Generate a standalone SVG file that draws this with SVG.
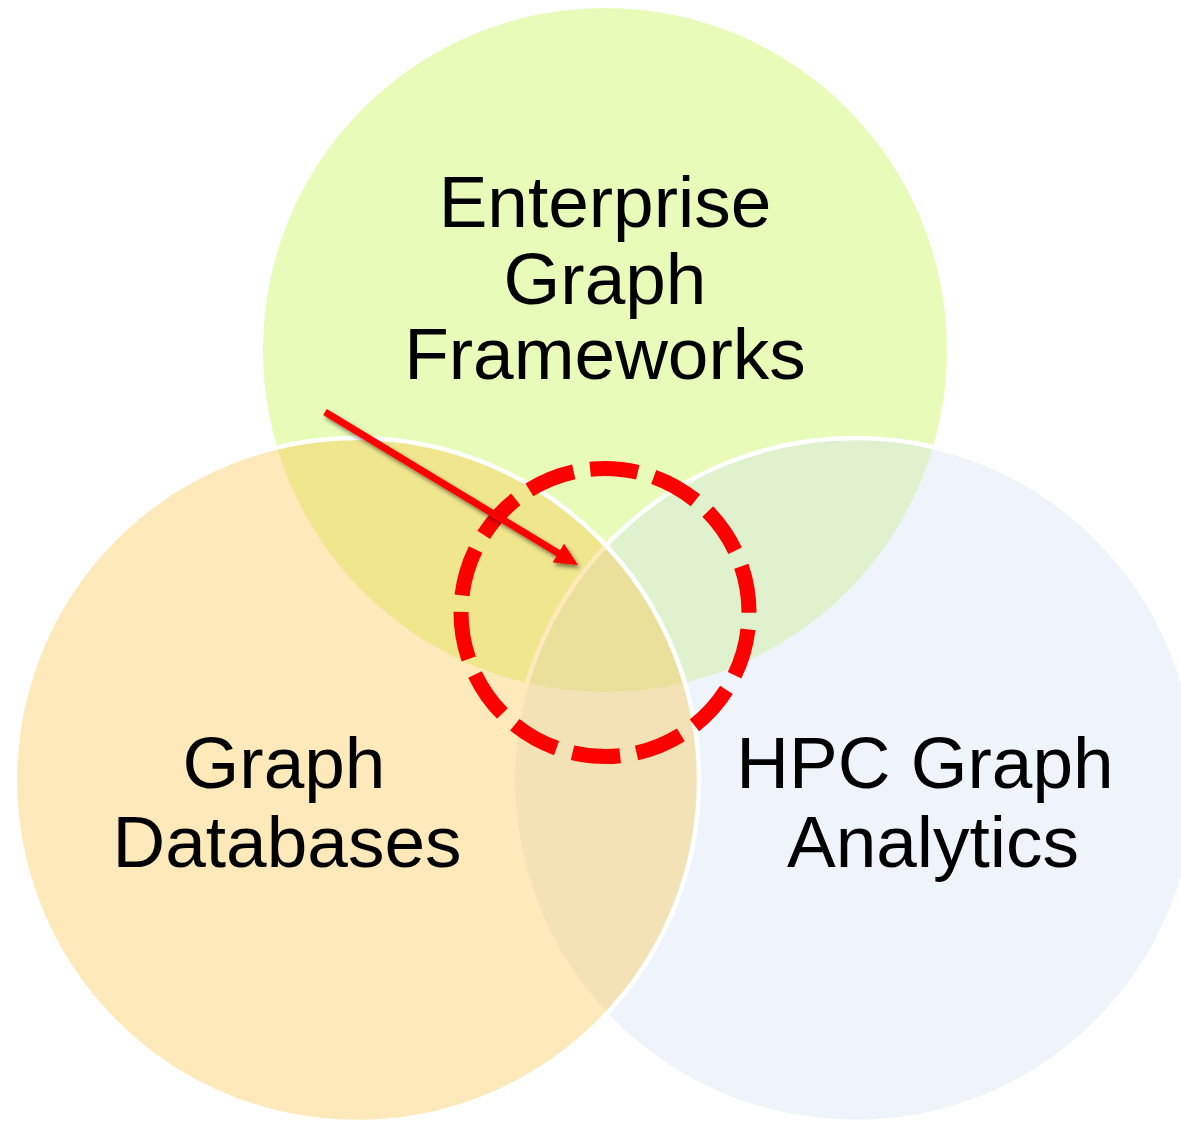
<svg xmlns="http://www.w3.org/2000/svg" width="1181" height="1121" viewBox="0 0 1181 1121">
  <style>
    .set { fill-opacity: 0.4; }
    .rim { stroke: #ffffff; stroke-width: 4.5; }
    .label { font-family: "Liberation Sans", Arial, sans-serif; font-size: 73px; fill: #000000; text-anchor: middle; }
    .focus { fill: none; stroke: #ff0000; stroke-width: 15; stroke-dasharray: 48 16.64; stroke-dashoffset: -17; }
    .pointer { fill: none; stroke: #ff0000; stroke-width: 7; }
  </style>
  <defs>
    <filter id="shadow" x="-20%" y="-20%" width="140%" height="140%">
      <feDropShadow dx="2" dy="3" stdDeviation="2.2" flood-color="#000000" flood-opacity="0.5"/>
    </filter>
    <marker id="head" viewBox="0 0 23 22" refX="4" refY="11" markerWidth="23" markerHeight="22" markerUnits="userSpaceOnUse" orient="auto">
      <path d="M0,0 L23,11 L0,22 Z" fill="#ff0000"/>
    </marker>
  </defs>

  <rect width="1181" height="1121" fill="#ffffff"/>

  <!-- Enterprise Graph Frameworks -->
  <g id="enterprise">
    <circle class="set" cx="605" cy="350" r="342" fill="#c6f54e"/>
  </g>

  <!-- HPC Graph Analytics -->
  <g id="hpc">
    <circle class="set rim" cx="855" cy="780" r="342" fill="#d5e4f0"/>
  </g>

  <!-- Graph Databases -->
  <g id="graphdb">
    <circle class="set rim" cx="357" cy="780" r="342" fill="#fac850"/>
  </g>

  <!-- highlighted intersection -->
  <g id="focus">
    <circle class="focus" cx="605" cy="612.5" r="144"/>
  </g>

  <g id="connectors" filter="url(#shadow)">
    <path class="pointer" d="M325,412 L561.7,555.2" marker-end="url(#head)"/>
  </g>

  <g id="labels">
    <text class="label" x="605" y="227">Enterprise</text>
    <text class="label" x="605" y="304">Graph</text>
    <text class="label" x="605" y="379">Frameworks</text>
    <text class="label" x="284" y="788">Graph</text>
    <text class="label" x="287" y="867">Databases</text>
    <text class="label" x="925" y="788">HPC Graph</text>
    <text class="label" x="933" y="867">Analytics</text>
  </g>
</svg>
